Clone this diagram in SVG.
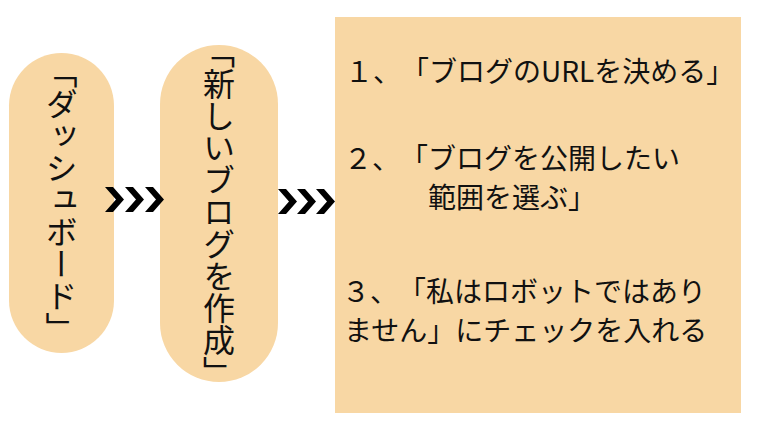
<svg xmlns="http://www.w3.org/2000/svg" width="760" height="428" viewBox="0 0 760 428">
  <style>
    text { text-spacing-trim: space-all; }
    .shape { fill: #F8D7A4; }
    .vt { font-family: "Noto Sans CJK JP", "Noto Sans", sans-serif; font-size: 32px; fill: #111; writing-mode: vertical-rl; }
    .ht { font-family: "Noto Sans CJK JP", "Noto Sans", sans-serif; font-size: 28px; fill: #111; }
    .chev { fill: #000; }
  </style>
  <defs>
    <polygon id="chev" points="0,-12.5 8,-12.5 19,0 8,12.5 0,12.5 11,0"/>
  </defs>
  <rect width="760" height="428" fill="#ffffff"/>

  <g id="node-dashboard">
    <rect class="shape" x="9" y="53" width="105" height="300" rx="52.5" ry="52.5"/>
    <text class="vt" x="61.5" y="200" text-anchor="middle">「ダッシュボード」</text>
  </g>

  <g id="node-create-blog">
    <rect class="shape" x="160" y="45" width="118" height="337" rx="59" ry="59"/>
    <text class="vt" x="219" y="212" text-anchor="middle">「新しいブログを作成」</text>
  </g>

  <g id="node-steps">
    <rect class="shape" x="335" y="17" width="406" height="396"/>
    <text class="ht" x="345" y="82">１、「ブログのURLを決める」</text>
    <text class="ht" x="344" y="168.5">２、「ブログを公開したい</text>
    <text class="ht" x="428" y="207.5">範囲を選ぶ」</text>
    <text class="ht" x="342" y="301.5">３、「私はロボットではあり</text>
    <text class="ht" x="344" y="340.5">ません」にチェックを入れる</text>
  </g>

  <g id="connectors">
    <g id="conn-1">
      <use href="#chev" class="chev" x="105" y="199.5"/>
      <use href="#chev" class="chev" x="125" y="199.5"/>
      <use href="#chev" class="chev" x="145" y="199.5"/>
    </g>
    <g id="conn-2">
      <use href="#chev" class="chev" x="278" y="201.5"/>
      <use href="#chev" class="chev" x="297" y="201.5"/>
      <use href="#chev" class="chev" x="316" y="201.5"/>
    </g>
  </g>
</svg>
